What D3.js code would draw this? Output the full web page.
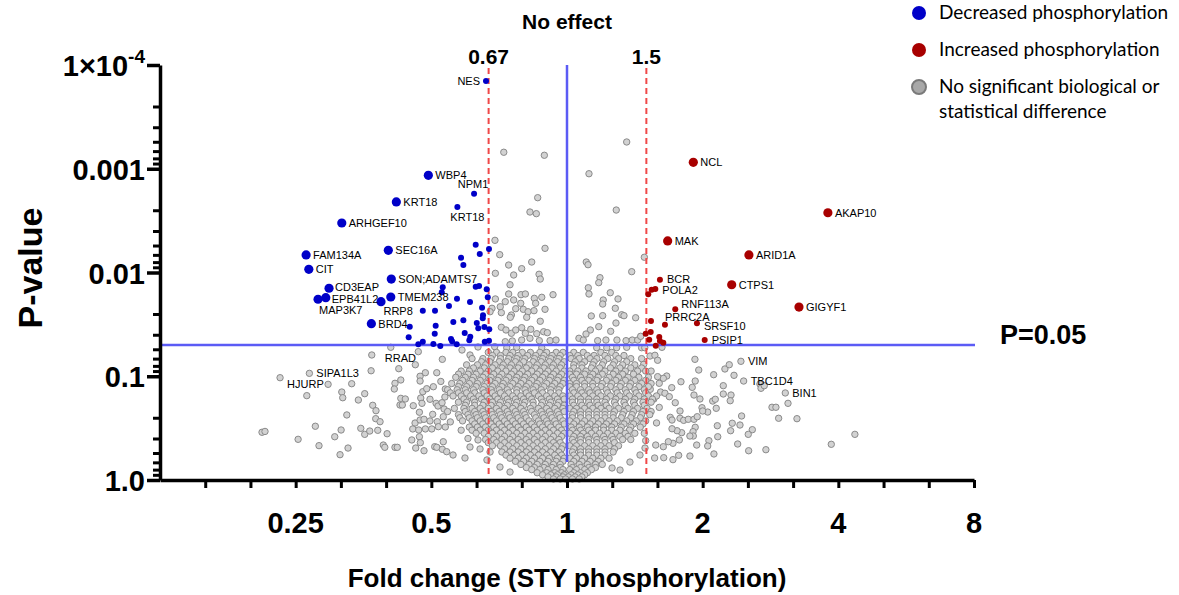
<!DOCTYPE html>
<html><head><meta charset="utf-8">
<script src="https://cdn.jsdelivr.net/npm/d3@7"></script>
<style>body{margin:0;background:#fff}svg{display:block}</style>
</head><body>
<svg id="chart" width="1179" height="595"></svg>
<script>
// ---------------- DATA ----------------
const xTickValues = [0.25, 0.5, 1, 2, 4, 8];
const xTickLabels = ["0.25", "0.5", "1", "2", "4", "8"];
const yTickValues = [1e-4, 1e-3, 1e-2, 1e-1, 1];
const yTickLabels = ["1×10|-4", "0.001", "0.01", "0.1", "1.0"];
const foldThresholds = [0.67, 1.5];
const foldThresholdLabels = ["0.67", "1.5"];
const pThreshold = 0.05;
const pThresholdLabel = "P=0.05";
const legendLabels = [["Decreased phosphorylation"], ["Increased phosphorylation"], ["No significant biological or", "statistical difference"]];

// [gene, log2 fold change, -log10 P]
const decreasedLarge = [
  ["WBP4", -1.022, 2.937], ["KRT18", -1.258, 2.680], ["ARHGEF10", -1.660, 2.477],
  ["FAM134A", -1.923, 2.169], ["CIT", -1.903, 2.031], ["SEC16A", -1.317, 2.214],
  ["SON;ADAMTS7", -1.295, 1.937], ["CD3EAP", -1.754, 1.848], ["EPB41L2", -1.778, 1.757],
  ["MAP3K7", -1.835, 1.742], ["TMEM238", -1.299, 1.764], ["", -1.371, 1.719], ["BRD4", -1.442, 1.507]
];
const decreasedSmall = [
  ["NES", -0.597, 3.846], ["NPM1", -0.685, 2.760], ["KRT18", -0.808, 2.631], ["RRP8", -1.063, 1.632],
  ["", -0.673, 2.268], ["", -0.643, 2.178], ["", -0.575, 2.227], ["", -0.781, 2.143], ["", -0.764, 2.072],
  ["", -0.916, 1.857], ["", -0.923, 1.809], ["", -0.673, 1.863], ["", -0.648, 1.870], ["", -0.592, 1.838],
  ["", -0.811, 1.747], ["", -0.715, 1.716], ["", -0.584, 1.761], ["", -0.870, 1.677], ["", -0.626, 1.661],
  ["", -0.973, 1.632], ["", -0.619, 1.587], ["", -0.621, 1.559], ["", -0.838, 1.523], ["", -0.764, 1.539],
  ["", -0.665, 1.513], ["", -1.159, 1.478], ["", -0.968, 1.487], ["", -0.654, 1.462], ["", -0.609, 1.475],
  ["", -0.573, 1.453], ["", -0.754, 1.417], ["", -1.167, 1.375], ["", -0.975, 1.410], ["", -0.855, 1.359],
  ["", -0.713, 1.381], ["", -0.720, 1.347], ["", -0.606, 1.333], ["", -0.575, 1.343], ["", -1.096, 1.308],
  ["", -1.063, 1.333], ["", -0.985, 1.311], ["", -0.934, 1.292], ["", -0.813, 1.308], ["", -0.847, 1.337]
];
const increasedLarge = [
  ["NCL", 0.931, 3.062], ["AKAP10", 1.923, 2.576], ["MAK", 0.742, 2.304],
  ["ARID1A", 1.341, 2.169], ["CTPS1", 1.214, 1.882], ["GIGYF1", 1.710, 1.667]
];
const increasedSmall = [
  ["BCR", 0.685, 1.931], ["POLA2", 0.651, 1.841], ["RNF113A", 0.798, 1.645], ["PRRC2A", 0.722, 1.497],
  ["SRSF10", 0.958, 1.510], ["PSIP1", 1.015, 1.349],
  ["", 0.624, 1.834], ["", 0.599, 1.790], ["", 0.619, 1.533], ["", 0.580, 1.410], ["", 0.617, 1.427],
  ["", 0.606, 1.352], ["", 0.680, 1.378], ["", 0.685, 1.340], ["", 0.710, 1.323], ["", 0.654, 1.294]
];
const grayLabeled = [
  ["RRAD", -1.299, 1.279], ["SIPA1L3", -1.899, 1.028], ["HJURP", -2.115, 0.986],
  ["VIM", 1.282, 1.144], ["TBC1D4", 1.302, 0.954], ["BIN1", 1.609, 0.839]
];
// [log2 fold change, -log10 P]
const graySparse = [
  [-0.466,3.159],[-0.167,3.130],[0.440,3.258],[0.162,2.952],[-0.216,2.721],[-0.273,2.583],[-0.226,2.567],
  [0.363,2.602],[-0.531,2.310],[-0.162,2.233],[-0.496,2.172],[-0.430,2.072],[-0.334,2.037],[-0.260,2.101],
  [-0.528,1.992],[-0.393,1.976],[-0.206,1.983],[-0.197,1.937],[-0.420,1.882],[-0.103,1.786],[-0.186,1.761],
  [-0.528,1.745],[-0.430,1.793],[-0.339,1.786],[-0.307,1.793],[-0.241,1.751],[-0.393,1.735],[-0.341,1.703],
  [-0.231,1.703],[-0.455,1.719],[-0.492,1.670],[-0.553,1.655],[-0.567,1.622],[-0.484,1.613],[-0.410,1.590],
  [-0.322,1.645],[-0.287,1.622],[-0.378,1.651],[-0.243,1.632],[-0.162,1.645],[-0.418,1.568],[-0.297,1.568],
  [-0.197,1.530],[-0.484,1.472],[-0.450,1.446],[-0.410,1.414],[-0.378,1.446],[-0.334,1.468],[-0.307,1.414],
  [-0.267,1.453],[-0.223,1.410],[-0.172,1.429],[-0.145,1.420],[-0.455,1.333],[-0.403,1.340],[-0.334,1.349],
  [-0.273,1.366],[-0.204,1.343],[-0.125,1.343],[-0.081,1.349],[-0.533,1.285],[-0.444,1.275],[-0.371,1.279],
  [-0.186,1.275],
  [0.142,2.101],[0.155,2.075],[0.570,2.147],[0.477,2.008],[0.243,1.950],[0.234,1.902],[0.157,1.853],
  [0.162,1.793],[0.319,1.805],[0.267,1.735],[0.263,1.696],[0.376,1.745],[0.356,1.655],[0.403,1.593],
  [0.420,1.584],[0.179,1.581],[0.263,1.584],[0.506,1.564],[0.361,1.513],[0.234,1.478],[0.322,1.433],
  [0.172,1.446],[0.140,1.407],[0.088,1.366],[0.120,1.349],[0.226,1.343],[0.287,1.349],[0.368,1.349],
  [0.435,1.343],[0.481,1.349],[0.521,1.349],[0.543,1.385],[0.219,1.275],[0.293,1.275],[0.366,1.275],
  [0.440,1.279],[0.550,1.275],
  [0.943,1.163],[0.971,1.060],[1.081,1.015],[1.164,1.070],[1.196,1.111],[1.231,1.009],[1.422,0.925],
  [1.430,0.884],[1.454,0.909],[1.629,0.739],[1.511,0.701],[1.540,0.701],[1.560,0.595],[1.695,0.591],
  [2.122,0.440],[1.948,0.344],[1.466,0.292],[1.339,0.282],[1.287,0.617],[1.218,0.547],[1.275,0.530],
  [1.366,0.485],[1.336,0.440],[1.258,0.347],[1.108,0.523],[1.206,0.475],[1.111,0.417],[1.046,0.379],
  [1.037,0.328],[1.083,0.251],[0.956,0.337],[0.906,0.231],[0.823,0.238],[0.781,0.196],[0.713,0.215],
  [1.152,0.909],[1.152,0.829],[1.209,0.819],[1.203,0.764],[1.100,0.691],[1.074,0.761],[1.093,0.778],
  [1.037,0.655],[0.995,0.697],[1.000,0.665],[0.945,0.954],[0.923,0.893],[0.936,0.819],[0.980,0.781],
  [0.840,0.947],[0.772,0.890],[0.735,1.002],[0.710,0.980],[0.680,0.932],[0.668,0.996],[0.614,0.874],
  [0.690,0.848],[0.722,0.836],[0.754,0.803],[0.798,0.745],[0.833,0.665],[0.761,0.604],[0.774,0.578],
  [0.833,0.595],[0.860,0.575],[0.894,0.585],[0.936,0.585],[0.960,0.610],[0.945,0.508],[0.929,0.466],
  [0.931,0.424],[0.906,0.424],[0.845,0.456],[0.811,0.475],[0.774,0.494],[0.828,0.386],[0.781,0.354],
  [0.747,0.369],[0.710,0.321],[0.654,0.337],[0.646,0.212],[0.565,1.115],[0.612,1.195],[0.648,1.202],
  [0.668,1.154],[0.573,1.275],[0.700,1.279],
  [-1.439,1.205],[-1.118,1.111],[-1.096,1.237],[-0.919,1.163],[-1.444,1.053],[-1.240,1.073],
  [-1.761,0.922],[-1.587,0.928],[-1.918,0.813],[-1.660,0.848],[-1.653,0.793],[-1.538,0.771],[-1.491,0.832],
  [-1.268,0.932],[-1.273,0.877],[-1.225,0.964],[-1.083,1.000],[-1.044,1.034],[-1.083,0.954],[-0.960,1.034],
  [-0.985,0.899],[-1.063,0.851],[-1.034,0.880],[-0.897,0.877],[-1.225,0.787],[-1.192,0.781],[-1.231,0.723],
  [-1.214,0.723],[-1.133,0.716],[-1.078,0.790],[-1.010,0.778],[-1.069,0.739],[-0.965,0.739],[-0.951,0.713],
  [-0.921,0.745],[-0.906,0.684],[-1.432,0.720],[-1.408,0.668],[-1.623,0.627],[-1.410,0.591],[-1.378,0.562],
  [-1.088,0.653],[-0.990,0.633],[-1.120,0.549],[-1.083,0.578],[-1.054,0.585],[-1.010,0.569],[-0.956,0.562],
  [-0.912,0.610],[-0.897,0.511],[-1.137,0.492],[-1.093,0.482],[-1.044,0.492],[-0.997,0.492],[-0.948,0.514],
  [-1.855,0.518],[-1.665,0.482],[-1.520,0.498],[-1.491,0.440],[-1.454,0.472],[-1.395,0.479],[-1.326,0.446],
  [-2.248,0.460],[-2.226,0.468],[-1.982,0.392],[-1.712,0.417],[-1.828,0.331],[-1.614,0.308],[-1.673,0.244],
  [-1.354,0.337],[-1.343,0.315],[-1.268,0.315],[-1.251,0.315],[-1.144,0.386],[-1.088,0.417],[-1.081,0.360],
  [-1.115,0.308],[-1.054,0.282],[-0.975,0.321],[-0.960,0.315],[-0.919,0.296],[-0.887,0.273],[-0.912,0.369],
  [-0.840,0.241],[-0.752,0.212],[-0.656,0.386],[-0.715,0.318],[-0.590,0.193],[-0.494,0.125],[-0.420,0.077],
  [-0.567,0.270],[-0.641,0.299],[-0.656,1.282],[-0.715,1.205],[-0.774,1.253],
  [0.391,0.096],[0.464,0.173],[0.332,0.116],[0.538,0.241],[0.575,0.308],
  [-0.93,0.95],[-0.90,0.80],[-0.88,0.66],[0.68,0.70],[0.66,0.55],[0.62,1.05],[-0.78,0.48],[-0.73,0.40],
  [0.57,0.45],[0.58,0.38],[-0.86,0.56],[0.64,0.78]
];
// dense centre of the volcano: [-log10 P, [log2 fold changes...]]
const grayCoreRows = [
  [1.23, [-0.58,-0.52,-0.45,-0.40,-0.33,-0.27,-0.20,-0.15,-0.08,-0.03,0.05,0.12,0.25,0.33]],
  [1.20, [-0.55,-0.49,-0.42,-0.36,-0.29,-0.23,-0.17,-0.11,-0.05,0.02,0.08,0.15,0.20,0.28,0.36,0.42]],
  [1.17, [-0.70,-0.62,-0.56,-0.49,-0.43,-0.37,-0.31,-0.24,-0.18,-0.12,-0.06,0.03,0.09,0.17,0.22,0.30,0.38,0.47,0.55]],
  [1.14, [-0.63,-0.57,-0.50,-0.44,-0.38,-0.32,-0.25,-0.19,-0.13,-0.07,-0.02,0.06,0.13,0.20,0.27,0.35,0.44]],
  [1.11, [-0.74,-0.66,-0.60,-0.53,-0.47,-0.41,-0.35,-0.28,-0.22,-0.16,-0.10,-0.04,0.05,0.11,0.19,0.26,0.34,0.41,0.50]],
  [1.08, [-0.69,-0.61,-0.55,-0.48,-0.42,-0.36,-0.30,-0.23,-0.17,-0.11,-0.05,0.05,0.11,0.18,0.24,0.32,0.39,0.47,0.55]],
  [1.05, [-0.78,-0.72,-0.64,-0.58,-0.51,-0.45,-0.39,-0.33,-0.26,-0.20,-0.14,-0.08,-0.02,0.02,0.08,0.14,0.21,0.28,0.36,0.43,0.52,0.58]],
  [1.02, [-0.80,-0.73,-0.67,-0.60,-0.54,-0.48,-0.41,-0.35,-0.29,-0.22,-0.16,-0.10,-0.04,0.02,0.07,0.13,0.19,0.26,0.34,0.41,0.49]],
  [0.99, [-0.82,-0.75,-0.69,-0.62,-0.56,-0.50,-0.43,-0.37,-0.31,-0.24,-0.18,-0.12,-0.06,0.04,0.10,0.17,0.23,0.31,0.38,0.45,0.53,0.60]],
  [0.96, [-0.77,-0.70,-0.64,-0.57,-0.51,-0.45,-0.38,-0.32,-0.26,-0.20,-0.13,-0.07,-0.02,0.05,0.11,0.16,0.22,0.29,0.36,0.43,0.50,0.58]],
  [0.93, [-0.85,-0.79,-0.72,-0.66,-0.59,-0.53,-0.47,-0.40,-0.34,-0.28,-0.22,-0.15,-0.09,-0.03,0.02,0.07,0.13,0.19,0.26,0.33,0.40,0.47,0.55,0.62]],
  [0.90, [-0.80,-0.74,-0.67,-0.61,-0.55,-0.48,-0.42,-0.36,-0.30,-0.23,-0.17,-0.11,-0.05,0.02,0.07,0.13,0.19,0.25,0.32,0.39,0.46,0.53,0.60]],
  [0.87, [-0.88,-0.81,-0.75,-0.69,-0.62,-0.56,-0.50,-0.44,-0.37,-0.31,-0.25,-0.19,-0.12,-0.06,0.04,0.10,0.16,0.22,0.29,0.36,0.43,0.50,0.57]],
  [0.84, [-0.86,-0.80,-0.74,-0.68,-0.61,-0.55,-0.49,-0.43,-0.37,-0.30,-0.24,-0.18,-0.12,-0.06,0.05,0.11,0.17,0.23,0.30,0.37,0.44,0.51,0.58]],
  [0.81, [-0.84,-0.78,-0.71,-0.65,-0.59,-0.53,-0.46,-0.40,-0.34,-0.28,-0.21,-0.15,-0.09,-0.03,0.02,0.08,0.13,0.19,0.25,0.32,0.39,0.46,0.53,0.60,0.66]],
  [0.78, [-0.76,-0.69,-0.63,-0.57,-0.51,-0.44,-0.38,-0.32,-0.26,-0.19,-0.13,-0.07,-0.02,0.04,0.10,0.16,0.22,0.29,0.36,0.43,0.50,0.57,0.63]],
  [0.75, [-0.80,-0.74,-0.68,-0.61,-0.55,-0.49,-0.43,-0.37,-0.31,-0.25,-0.18,-0.12,-0.06,0.04,0.10,0.16,0.22,0.28,0.35,0.42,0.49,0.56,0.62]],
  [0.72, [-0.75,-0.68,-0.62,-0.56,-0.50,-0.44,-0.38,-0.32,-0.25,-0.19,-0.13,-0.07,-0.02,0.05,0.11,0.17,0.23,0.29,0.36,0.43,0.50,0.57]],
  [0.69, [-0.83,-0.76,-0.70,-0.64,-0.58,-0.52,-0.46,-0.40,-0.34,-0.27,-0.21,-0.15,-0.09,-0.03,0.02,0.07,0.13,0.19,0.25,0.31,0.38,0.45,0.52,0.59]],
  [0.66, [-0.75,-0.68,-0.62,-0.56,-0.50,-0.44,-0.38,-0.32,-0.26,-0.19,-0.13,-0.07,-0.02,0.05,0.10,0.16,0.22,0.28,0.35,0.42,0.49,0.56,0.62]],
  [0.63, [-0.80,-0.73,-0.67,-0.61,-0.55,-0.49,-0.43,-0.37,-0.31,-0.24,-0.18,-0.12,-0.06,0.04,0.10,0.16,0.22,0.28,0.34,0.41,0.48,0.55,0.61]],
  [0.60, [-0.79,-0.72,-0.66,-0.60,-0.54,-0.48,-0.42,-0.36,-0.30,-0.23,-0.17,-0.11,-0.05,0.04,0.10,0.16,0.22,0.28,0.34,0.40,0.47,0.54]],
  [0.57, [-0.77,-0.70,-0.64,-0.58,-0.52,-0.46,-0.40,-0.34,-0.28,-0.21,-0.15,-0.09,-0.03,0.02,0.07,0.13,0.19,0.25,0.31,0.37,0.44,0.51,0.58]],
  [0.54, [-0.68,-0.62,-0.56,-0.50,-0.44,-0.38,-0.32,-0.26,-0.20,-0.14,-0.08,-0.02,0.05,0.11,0.17,0.23,0.29,0.35,0.42,0.49,0.56]],
  [0.51, [-0.72,-0.66,-0.60,-0.54,-0.48,-0.42,-0.36,-0.30,-0.24,-0.18,-0.12,-0.06,0.03,0.09,0.15,0.21,0.27,0.33,0.40,0.47,0.54]],
  [0.48, [-0.70,-0.64,-0.58,-0.52,-0.46,-0.40,-0.34,-0.28,-0.22,-0.16,-0.10,-0.04,0.04,0.10,0.16,0.21,0.27,0.33,0.39,0.46]],
  [0.45, [-0.67,-0.61,-0.55,-0.49,-0.43,-0.37,-0.31,-0.25,-0.19,-0.13,-0.07,-0.02,0.02,0.07,0.12,0.18,0.24,0.30,0.36,0.43,0.50]],
  [0.42, [-0.58,-0.52,-0.46,-0.40,-0.34,-0.28,-0.22,-0.16,-0.10,-0.04,0.05,0.10,0.15,0.21,0.27,0.33,0.39,0.45]],
  [0.39, [-0.60,-0.54,-0.48,-0.42,-0.36,-0.30,-0.24,-0.18,-0.12,-0.06,0.04,0.10,0.16,0.22,0.28,0.34,0.41,0.47]],
  [0.36, [-0.58,-0.52,-0.46,-0.40,-0.34,-0.28,-0.22,-0.16,-0.10,-0.05,0.05,0.10,0.16,0.22,0.28,0.35]],
  [0.33, [-0.55,-0.49,-0.43,-0.37,-0.31,-0.25,-0.19,-0.13,-0.08,-0.03,0.02,0.07,0.13,0.19,0.25,0.31,0.38]],
  [0.30, [-0.46,-0.40,-0.34,-0.28,-0.22,-0.16,-0.10,-0.04,0.05,0.10,0.16,0.22,0.28,0.35]],
  [0.27, [-0.48,-0.42,-0.36,-0.30,-0.24,-0.18,-0.12,-0.06,0.04,0.10,0.16,0.22,0.28,0.34]],
  [0.24, [-0.45,-0.39,-0.33,-0.27,-0.21,-0.15,-0.09,-0.04,0.05,0.10,0.16,0.22,0.28]],
  [0.21, [-0.42,-0.36,-0.30,-0.24,-0.18,-0.13,-0.07,-0.02,0.02,0.07,0.13,0.19,0.25,0.31]],
  [0.18, [-0.38,-0.32,-0.26,-0.20,-0.14,-0.08,-0.03,0.05,0.11,0.17,0.23]],
  [0.15, [-0.34,-0.28,-0.22,-0.16,-0.10,-0.05,0.03,0.09,0.15,0.21,0.26]],
  [0.12, [-0.30,-0.24,-0.17,-0.11,-0.05,0.04,0.10,0.16,0.21]],
  [0.10, [-0.26,-0.20,-0.14,-0.08,-0.03,0.02,0.07,0.13,0.18]],
  [0.07, [-0.22,-0.15,-0.09,-0.04,0.05,0.10,0.15]],
  [0.05, [-0.18,-0.12,-0.07,-0.02,0.03,0.08,0.13]],
  [0.03, [-0.14,-0.08,-0.03,0.01,0.06,0.11]],
  [0.01, [-0.10,-0.05,-0.01,0.04,0.09]]
];

// ---------------- STYLE ----------------
const C = {
  blue: "#0000c8", red: "#a80000", grayFill: "#d2d2d2", grayStroke: "#8a8a8a",
  refBlue: "#5b5bf5", refRed: "#f04848", axis: "#000"
};
const labelPlacement = {
  "decreasedSmall:NES": {dx: -6, dy: 4, anchor: "end"},
  "decreasedSmall:NPM1": {dx: -1, dy: -6, anchor: "middle"},
  "decreasedSmall:KRT18": {dx: 10, dy: 14, anchor: "middle"},
  "decreasedSmall:RRP8": {dx: -10, dy: 4, anchor: "end"},
  "decreasedLarge:MAP3K7": {dx: 1, dy: 15, anchor: "start"},
  "decreasedLarge:CD3EAP": {dx: 6, dy: 3, anchor: "start"},
  "decreasedLarge:EPB41L2": {dx: 6, dy: 5, anchor: "start"},
  "gray:RRAD": {dx: -6, dy: 15, anchor: "start"},
  "gray:HJURP": {dx: 7, dy: 10, anchor: "start"},
  "increasedSmall:BCR": {dx: 7, dy: 3, anchor: "start"},
  "increasedSmall:POLA2": {dx: 7, dy: 5, anchor: "start"},
  "increasedSmall:PRRC2A": {dx: 0, dy: -4, anchor: "start"},
  "increasedSmall:RNF113A": {dx: 6, dy: -1, anchor: "start"},
  "increasedSmall:SRSF10": {dx: 7, dy: 7, anchor: "start"}
};
const yMinorFractions = [0.40, 0.60, 0.74, 0.83, 0.90, 0.95];
const FONT = "Arial, 'Liberation Sans', Helvetica, sans-serif";

// ---------------- CHART ----------------
const svg = d3.select("#chart");
const x = d3.scaleLog().base(2).domain([0.125, 8]).range([160, 974]);
const y = d3.scaleLog().domain([1e-4, 1]).range([65, 480]);
const fc = l => Math.pow(2, l);
const pv = n => Math.pow(10, -n);

// gray points
const grayPts = graySparse.slice();
grayCoreRows.forEach(([n, ls]) => ls.forEach(l => grayPts.push([l, n])));
grayLabeled.forEach(d => grayPts.push([d[1], d[2]]));
svg.append("g").selectAll("circle").data(grayPts).join("circle")
  .attr("cx", d => x(fc(d[0]))).attr("cy", d => y(pv(d[1]))).attr("r", 3.2)
  .attr("fill", C.grayFill).attr("stroke", C.grayStroke).attr("stroke-width", 1);

// reference lines
const ref = svg.append("g");
ref.append("line").attr("x1", x(1)).attr("x2", x(1)).attr("y1", y(1e-4)).attr("y2", 462)
  .attr("stroke", C.refBlue).attr("stroke-width", 2.5);
ref.append("line").attr("x1", x(0.125)).attr("x2", x(8) + 1).attr("y1", y(pThreshold)).attr("y2", y(pThreshold))
  .attr("stroke", C.refBlue).attr("stroke-width", 2.5);
foldThresholds.forEach(t => {
  ref.append("line").attr("x1", x(t)).attr("x2", x(t)).attr("y1", y(1e-4) + 3).attr("y2", 478)
    .attr("stroke", C.refRed).attr("stroke-width", 2).attr("stroke-dasharray", "6,4");
});

// colored points
function drawGroup(data, color, r) {
  svg.append("g").selectAll("circle").data(data).join("circle")
    .attr("cx", d => x(fc(d[1]))).attr("cy", d => y(pv(d[2]))).attr("r", r).attr("fill", color);
}
drawGroup(decreasedSmall, C.blue, 3);
drawGroup(decreasedLarge, C.blue, 4.6);
drawGroup(increasedSmall, C.red, 3);
drawGroup(increasedLarge, C.red, 4.6);

// labels
function drawLabels(data, group) {
  const g = svg.append("g").attr("font-family", FONT).attr("font-size", 11);
  data.filter(d => d[0]).forEach(d => {
    const p = labelPlacement[group + ":" + d[0]] || {dx: 7, dy: 4, anchor: "start"};
    g.append("text").attr("x", x(fc(d[1])) + p.dx).attr("y", y(pv(d[2])) + p.dy)
      .attr("text-anchor", p.anchor).text(d[0]);
  });
}
drawLabels(decreasedLarge, "decreasedLarge");
drawLabels(decreasedSmall, "decreasedSmall");
drawLabels(increasedLarge, "increasedLarge");
drawLabels(increasedSmall, "increasedSmall");
drawLabels(grayLabeled, "gray");

// axes
const xMinor = d3.range(-8, 10).map(k => Math.pow(2, k / 3));
const xAx = svg.append("g").attr("transform", "translate(0,480)")
  .call(d3.axisBottom(x).tickValues(xMinor).tickSize(8).tickFormat("").tickSizeOuter(0));
xAx.select(".domain").attr("stroke-width", 3.5);
xAx.selectAll(".tick line").attr("stroke-width", 3);
const xLab = svg.append("g").attr("font-family", FONT).attr("font-weight", "bold").attr("font-size", 29);
xTickValues.forEach((v, i) => xLab.append("text").attr("x", x(v)).attr("y", 533).attr("text-anchor", "middle").text(xTickLabels[i]));

const yMinor = [];
[-4, -3, -2, -1].forEach(d => yMinorFractions.forEach(f => yMinor.push(Math.pow(10, d + f))));
const yAx = svg.append("g").attr("transform", "translate(160,0)")
  .call(d3.axisLeft(y).tickValues(yMinor).tickSize(7).tickFormat("").tickSizeOuter(0));
yAx.select(".domain").attr("stroke-width", 3.5);
yAx.selectAll(".tick line").attr("stroke-width", 3);
const yAxM = svg.append("g").attr("transform", "translate(160,0)")
  .call(d3.axisLeft(y).tickValues(yTickValues).tickSize(13).tickFormat("").tickSizeOuter(0));
yAxM.select(".domain").remove();
yAxM.selectAll(".tick line").attr("stroke-width", 3.5);
const yLab = svg.append("g").attr("font-family", FONT).attr("font-weight", "bold").attr("font-size", 29).attr("text-anchor", "end");
yTickValues.forEach((v, i) => {
  const parts = yTickLabels[i].split("|");
  const t = yLab.append("text").attr("x", 145).attr("y", y(v) + 11);
  t.append("tspan").text(parts[0]);
  if (parts[1]) t.append("tspan").attr("dy", -13).attr("font-size", 19).text(parts[1]);
});

// titles
const T = svg.append("g").attr("font-family", FONT).attr("font-weight", "bold").attr("fill", "#000");
T.append("text").attr("x", 567).attr("y", 587).attr("text-anchor", "middle").attr("font-size", 26).text("Fold change (STY phosphorylation)");
T.append("text").attr("transform", "translate(42,268) rotate(-90)").attr("text-anchor", "middle").attr("font-size", 34).text("P-value");
T.append("text").attr("x", x(1)).attr("y", 29).attr("text-anchor", "middle").attr("font-size", 21).text("No effect");
foldThresholds.forEach((t, i) => T.append("text").attr("x", x(t)).attr("y", 64).attr("text-anchor", "middle").attr("font-size", 21).text(foldThresholdLabels[i]));
T.append("text").attr("x", 1000).attr("y", 344).attr("font-size", 27).text(pThresholdLabel);

// legend
const legendColors = [[C.blue, C.blue], [C.red, C.red], ["#a8a8a8", "#7a7a7a"]];
const legendY = [13, 50, 87];
const L = svg.append("g").attr("font-family", "Lato, 'Open Sans', sans-serif").attr("font-size", 19);
legendLabels.forEach((lines, i) => {
  L.append("circle").attr("cx", 919).attr("cy", legendY[i]).attr("r", 7)
    .attr("fill", legendColors[i][0]).attr("stroke", legendColors[i][1]).attr("stroke-width", i === 2 ? 2 : 0);
  lines.forEach((s, j) => L.append("text").attr("x", 939).attr("y", legendY[i] + 6 + j * 25).text(s));
});
</script>
</body></html>
